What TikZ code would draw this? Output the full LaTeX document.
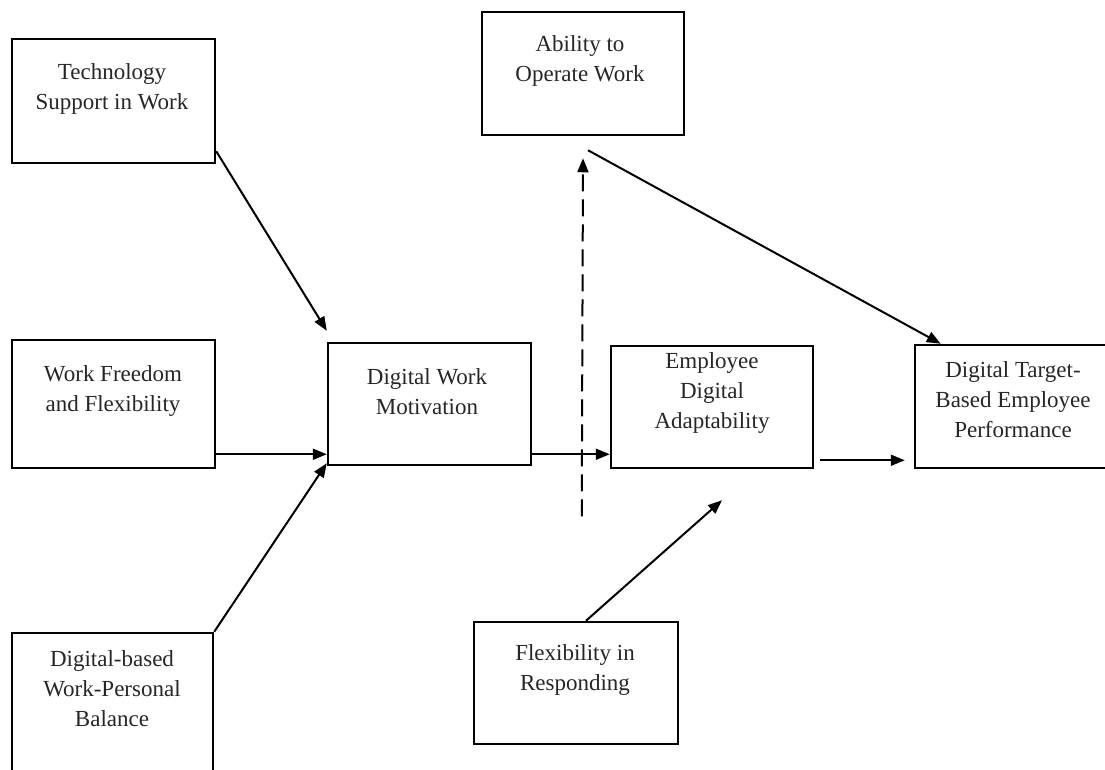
\documentclass[tikz,border=0pt]{standalone}
\usepackage{fontspec}
\setmainfont{Liberation Serif}
\usetikzlibrary{arrows.meta,calc}
\begin{document}
\begin{tikzpicture}[x=1pt,y=-1pt,
  box/.style={draw=black,line width=2.5pt,inner sep=0pt,minimum width=#1},
  lbl/.style={align=center,font=\fontsize{23}{30}\selectfont,text=black!85,inner sep=0pt},
  conn/.style={line width=2pt,-{Triangle[length=14pt,width=11pt]}},
  plain/.style={line width=2pt}]
\useasboundingbox (0,0) rectangle (1105,769);
\begin{scope}
\clip (0,0) rectangle (1105,769);
% boxes
\node[box=203pt,minimum height=124pt] (tech) at (113.5,101) {};
\node[box=202pt,minimum height=123pt] (ability) at (583,73.5) {};
\node[box=203pt,minimum height=128pt] (freedom) at (113.5,404) {};
\node[box=203pt,minimum height=122pt] (dwm) at (429.5,404) {};
\node[box=202pt,minimum height=122pt] (emp) at (712,407) {};
\node[box=196pt,minimum height=123pt] (dtbep) at (1013,406.5) {};
\node[box=201pt,minimum height=150pt] (balance) at (112.5,708) {};
\node[box=204pt,minimum height=122pt] (flex) at (576,683) {};
% labels
\node[lbl] (techT) at (112,89) {Technology\\Support in Work};
\node[lbl] (abilityT) at (580,61) {Ability to\\Operate Work};
\node[lbl] (freedomT) at (113,391) {Work Freedom\\and Flexibility};
\node[lbl] (dwmT) at (427,392) {Digital Work\\Motivation};
\node[lbl] (empT) at (712,393) {Employee\\Digital\\Adaptability};
\node[lbl] (dtbepT) at (1013,400) {Digital Target-\\Based Employee\\Performance};
\node[lbl] (balanceT) at (112,689) {Digital-based\\Work-Personal\\Balance};
\node[lbl] (flexT) at (575,670) {Flexibility in\\Responding};
\end{scope}
% connectors
\draw[conn] ($(tech.south east)+(0,-13)$) -- ($(dwm.north west)+(0,-11)$);
\draw[conn] ($(freedom.south east)+(0,-15)$) -- ($(dwm.south west)+(0,-12)$);
\draw[conn] (balance.north east) -- ($(dwm.south west)+(0,-3)$);
\draw[conn] ($(dwm.south east)+(0,-12)$) -- ($(emp.south west)+(0,-15)$);
\draw[conn] ($(emp.south east)+(6,-9)$) -- ($(dtbep.south west)+(-9,-9)$);
\draw[conn] ($(ability.south)+(5,14)$) -- ($(dtbep.north west)+(27,0)$);
\coordinate (dashend) at ($(emp.south west)+(-28,47)$);
\draw[conn,dash pattern=on 17pt off 8pt] (dashend) -- ($(ability.south)+(0,22)$);
\draw[conn] ($(flex.north)+(10,0)$) -- ($(emp.south)+(10,31)$);
\end{tikzpicture}
\end{document}
